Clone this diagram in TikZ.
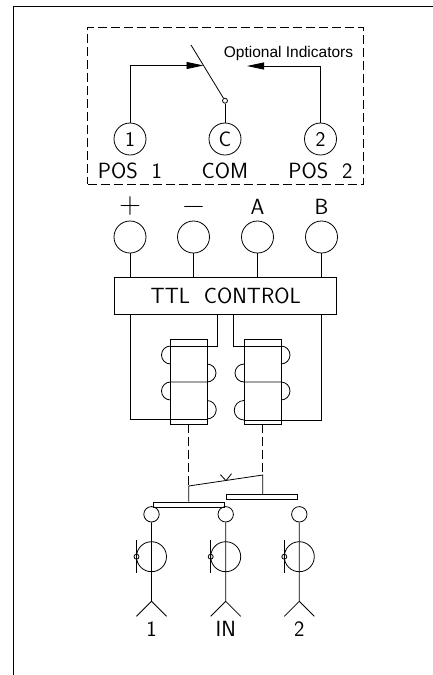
\documentclass[tikz,border=0pt]{standalone}
\usepackage{fontspec}
\usetikzlibrary{positioning,arrows.meta}
\newfontfamily\notefont{Liberation Sans}

\tikzset{
	wire/.style={line width=0.8pt},
	longdash/.style={wire, dash pattern=on 9pt off 4pt},
	term/.style={draw, wire, circle, inner sep=0pt, minimum size=32pt, font=\sffamily\fontsize{21}{21}\selectfont},
	dot/.style={draw, wire, circle, inner sep=0pt, minimum size=5pt},
	lbl/.style={inner sep=0pt, font=\sffamily\fontsize{22}{22}\selectfont},
	sign/.style={inner sep=0pt, font=\sffamily\fontsize{30}{30}\selectfont},
	bar/.style={draw, wire, inner sep=0pt, minimum width=71pt, minimum height=5pt},
	core/.style={draw, wire, inner sep=0pt, minimum width=36.5pt, minimum height=85pt},
	tip/.style={-{Triangle[length=17pt,width=7pt]}},
	port/.pic={
		\node[term, minimum size=15.4pt] (-head) {};
		\node[term, minimum size=30pt, below=42.4pt of -head] (-body) {};
		\node[dot, left=15pt of -body] (-eye) {};
		\coordinate[below=87pt of -head] (-tip);
		\coordinate[above=16.7pt of -eye] (-up);
		\coordinate[below=16.7pt of -eye] (-dn);
		\draw[wire] (-head) -- (-tip) -- +(-15,15) (-tip) -- +(15,15);
		\draw[wire] (-up) -- (-dn);
	}
}

\begin{document}
\begin{tikzpicture}[x=1pt, y=-1pt, on grid]
		\useasboundingbox (0,0) rectangle (433,675);
		\coordinate (fa) at (433,6.5);
		\coordinate (fb) at (13.5,6.5);
		\coordinate (fc) at (13.5,675);
		\draw[line width=1.2pt] (fa) -- (fb) -- (fc);

		% indicator block
		\node[longdash, draw, minimum width=275.5pt, minimum height=157pt] (dashbox) at (225.25,105.5) {};
		\node[term] (pos1) at (130,139) {1};
		\node[term, right=95pt of pos1] (com) {C};
		\node[term, right=95.5pt of com] (pos2) {2};
		\node[lbl, below=32pt of pos1] (pos1lbl) {POS\ \ 1};
		\node[lbl, below=32pt of com] (comlbl) {COM};
		\node[lbl, below=32pt of pos2] (pos2lbl) {POS\ \ 2};
		\node[dot, above=38.3pt of com] (pivot) {};
		\coordinate (armend) at (191,45);
		\coordinate (stop) at (247,66);
		\node[inner sep=0pt, font=\notefont\fontsize{15.5}{15.5}\selectfont] (note) at (288.5,53) {Optional Indicators};
		\draw[wire] (pivot) -- (com);
		\draw[wire] (armend) -- coordinate[pos=.385] (armhit) (pivot);
		\draw[wire, tip] (pos1) |- (armhit);
		\draw[wire, tip] (pos2) |- (stop);

		% control terminals
		\node[term] (plus) at (130,237) {};
		\node[term, right=63.5pt of plus] (minus) {};
		\node[term, right=64pt of minus] (lineA) {};
		\node[term, right=64pt of lineA] (lineB) {};
		\node[sign, above=31pt of plus] (pluslbl) {+};
		\node[sign, above=27pt of minus] (minuslbl) {−};
		\node[lbl, above=30pt of lineA] (lineAlbl) {A};
		\node[lbl, above=30pt of lineB] (lineBlbl) {B};
		\node[draw, wire, lbl, minimum width=222pt, minimum height=37pt] (ttl) at (225.75,295.5) {TTL\ \ CONTROL};
		\draw[wire] (plus) -- (plus |- ttl.north);
		\draw[wire] (minus) -- (minus |- ttl.north);
		\draw[wire] (lineA) -- (lineA |- ttl.north);
		\draw[wire] (lineB) -- (lineB |- ttl.north);

		% relay coils
		\node[core] (coreL) at (188.75,381.5) {};
		\node[core] (coreR) at (262.75,381.5) {};
		\coordinate (feedL) at (217,346);
		\coordinate (feedR) at (233,346);
		\coordinate (backL) at (207,419);
		\coordinate (backR) at (244,420);
		\draw[wire] (plus |- ttl.south) |- (backL);
		\draw[wire] (lineB |- ttl.south) |- (backR);
		\draw[wire] (feedL |- ttl.south) |- (coreL.west |- feedL);
		\draw[wire] (feedR |- ttl.south) |- (coreR.east |- feedR);
		\draw[wire] (170.5,346) arc (270:90:9) (207,364) arc (-90:90:9) -- (170.5,382) arc (270:90:9) (207,400.5) arc (-90:90:9.25);
		\draw[wire] (281,346) arc (-90:90:9) (244,364) arc (270:90:9) -- (281,382) arc (-90:90:9) (244,400.5) arc (270:90:9.75);

		% contacts
		\node[bar] (barL) at (188.5,504.5) {};
		\node[bar, minimum height=4.5pt] (barR) at (262,497) {};
		\coordinate (linkL) at (188.75,486);
		\coordinate (linkR) at (262.75,475);
		\draw[longdash] (coreL) ++(0,42.5) -- (linkL);
		\draw[longdash] (coreR) ++(0,42.5) -- (linkR);
		\draw[wire] (barL.north -| linkL) -- (linkL) -- (linkR) -- (barR.north -| linkR);
		\coordinate (vee) at (226,480.7);
		\draw[wire] (vee) -- +(-5.5,-6) (vee) -- +(5.5,-7);

		% coax ports
		\pic (port1) at (151.5,514.3) {port};
		\pic (portin) at (225.7,514.3) {port};
		\pic (port2) at (299.3,514.3) {port};
		\node[lbl, below=114.7pt of port1-head] (port1lbl) {1};
		\node[lbl, below=114.7pt of portin-head] (portinlbl) {IN};
		\node[lbl, below=114.7pt of port2-head] (port2lbl) {2};
\end{tikzpicture}
\end{document}
